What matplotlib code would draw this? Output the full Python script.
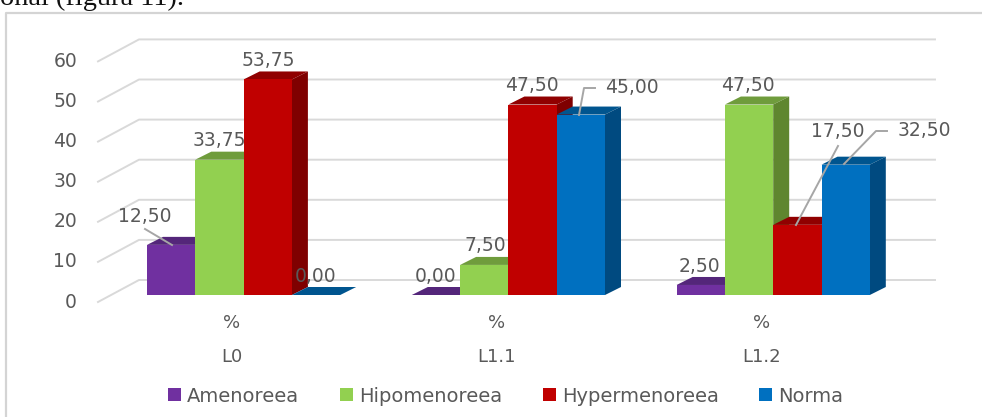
import matplotlib
matplotlib.use("Agg")
import matplotlib.pyplot as plt
from matplotlib.patches import Patch

groups = ["L0", "L1.1", "L1.2"]
unit_labels = ["%", "%", "%"]
series = ["Amenoreea", "Hipomenoreea", "Hypermenoreea", "Norma"]
amenoreea = [12.50, 0.00, 2.50]
hipomenoreea = [33.75, 7.50, 47.50]
hypermenoreea = [53.75, 47.50, 17.50]
norma = [0.00, 45.00, 32.50]
y_ticks = [0, 10, 20, 30, 40, 50, 60]

W, H = 982, 417
PX_GROUP, PX_UNIT = 264.8, 4.01
X0, Y0 = 243.6, 295.0
BAR = 48.3 / PX_GROUP
DX, DY = 16 / PX_GROUP, 8 / PX_UNIT

front = ["#7030a0", "#92d050", "#c00000", "#0070c0"]
top = ["#54267a", "#6f9c3c", "#900000", "#00558f"]
side = ["#40205f", "#5f862f", "#7f0000", "#004a80"]
TEXT = "#595959"
GRID = "#d9d9d9"


def gx(px):
    return (px - X0) / PX_GROUP


def vy(py):
    return (Y0 - py) / PX_UNIT


plt.rcParams["font.family"] = "DejaVu Sans"
fig = plt.figure(figsize=(W / 100, H / 100), dpi=100)
ax = fig.add_axes([0, 0, 1, 1])
ax.set_xlim(gx(0), gx(W))
ax.set_ylim(vy(H), vy(0))
ax.axis("off")

# image frame and cropped caption
ax.plot([gx(6), gx(6), gx(W)], [vy(H), vy(13), vy(13)], color="#d4d4d4", lw=1.6, zorder=1)
fig.text(0, 1 - 5 / H, "onal (figura 11).", family="Liberation Serif", fontsize=20.4,
         color="#111111", ha="left", va="baseline")

# back wall and left wall gridlines
for t in y_ticks:
    ax.plot([gx(98), gx(139), gx(935)],
            [t + vy(302), t + vy(280), t + vy(280)], color=GRID, lw=1.4, zorder=1)
    ax.text(gx(77), t + vy(302), str(t), ha="right", va="center",
            fontsize=13.5, color=TEXT, zorder=6)

# bars, drawn left to right so that each front hides its neighbour's side
all_values = [amenoreea, hipomenoreea, hypermenoreea, norma]
z = 2
for g in range(len(groups)):
    for s, values in enumerate(all_values):
        v = values[g]
        x0 = g + (s - 2) * BAR
        x1 = x0 + BAR
        ax.fill([x0, x1, x1 + DX, x0 + DX], [v, v, v + DY, v + DY],
                color=top[s], lw=0, zorder=z)
        if v > 0:
            ax.fill([x1, x1 + DX, x1 + DX, x1], [0, DY, v + DY, v],
                    color=side[s], lw=0, zorder=z)
            ax.bar(x0, v, width=BAR, align="edge", color=front[s], lw=0, zorder=z)
        z += 1

# value labels: centre of each label in pixels
label_px = {
    (0, 0): (145, 217), (1, 0): (219, 141), (2, 0): (268, 61), (3, 0): (316, 277),
    (0, 1): (436, 277), (1, 1): (485, 246), (2, 1): (532, 86), (3, 1): (632, 88),
    (0, 2): (699, 267), (1, 2): (748, 86), (2, 2): (838, 132), (3, 2): (924, 131),
}
for (s, g), (px, py) in label_px.items():
    ax.text(gx(px), vy(py), f"{all_values[s][g]:.2f}".replace(".", ","),
            ha="center", va="center", fontsize=13.5, color=TEXT, zorder=40)

# leader lines
leaders = [
    [(145, 229), (172, 245)],
    [(579, 115), (584, 88), (595, 88)],
    [(796, 225), (838, 146)],
    [(844, 164), (876, 131), (887, 131)],
]
for pts in leaders:
    ax.plot([gx(p[0]) for p in pts], [vy(p[1]) for p in pts],
            color="#a6a6a6", lw=1.4, zorder=30)

# category labels
for g, (u, name) in enumerate(zip(unit_labels, groups)):
    ax.text(g - 12 / PX_GROUP, vy(323), u, ha="center", va="center", fontsize=13, color=TEXT)
    ax.text(g - 12 / PX_GROUP, vy(357), name, ha="center", va="center", fontsize=13, color=TEXT)

handles = [Patch(facecolor=c, edgecolor="none", label=n) for c, n in zip(front, series)]
ax.legend(handles=handles, ncols=4, frameon=False, loc="center",
          bbox_to_anchor=(505.5 / W, 1 - 396 / H), fontsize=14, labelcolor=TEXT,
          handlelength=0.67, handleheight=0.67, handletextpad=0.31, columnspacing=2.1,
          borderpad=0, borderaxespad=0)

fig.savefig("out.png", dpi=100)
